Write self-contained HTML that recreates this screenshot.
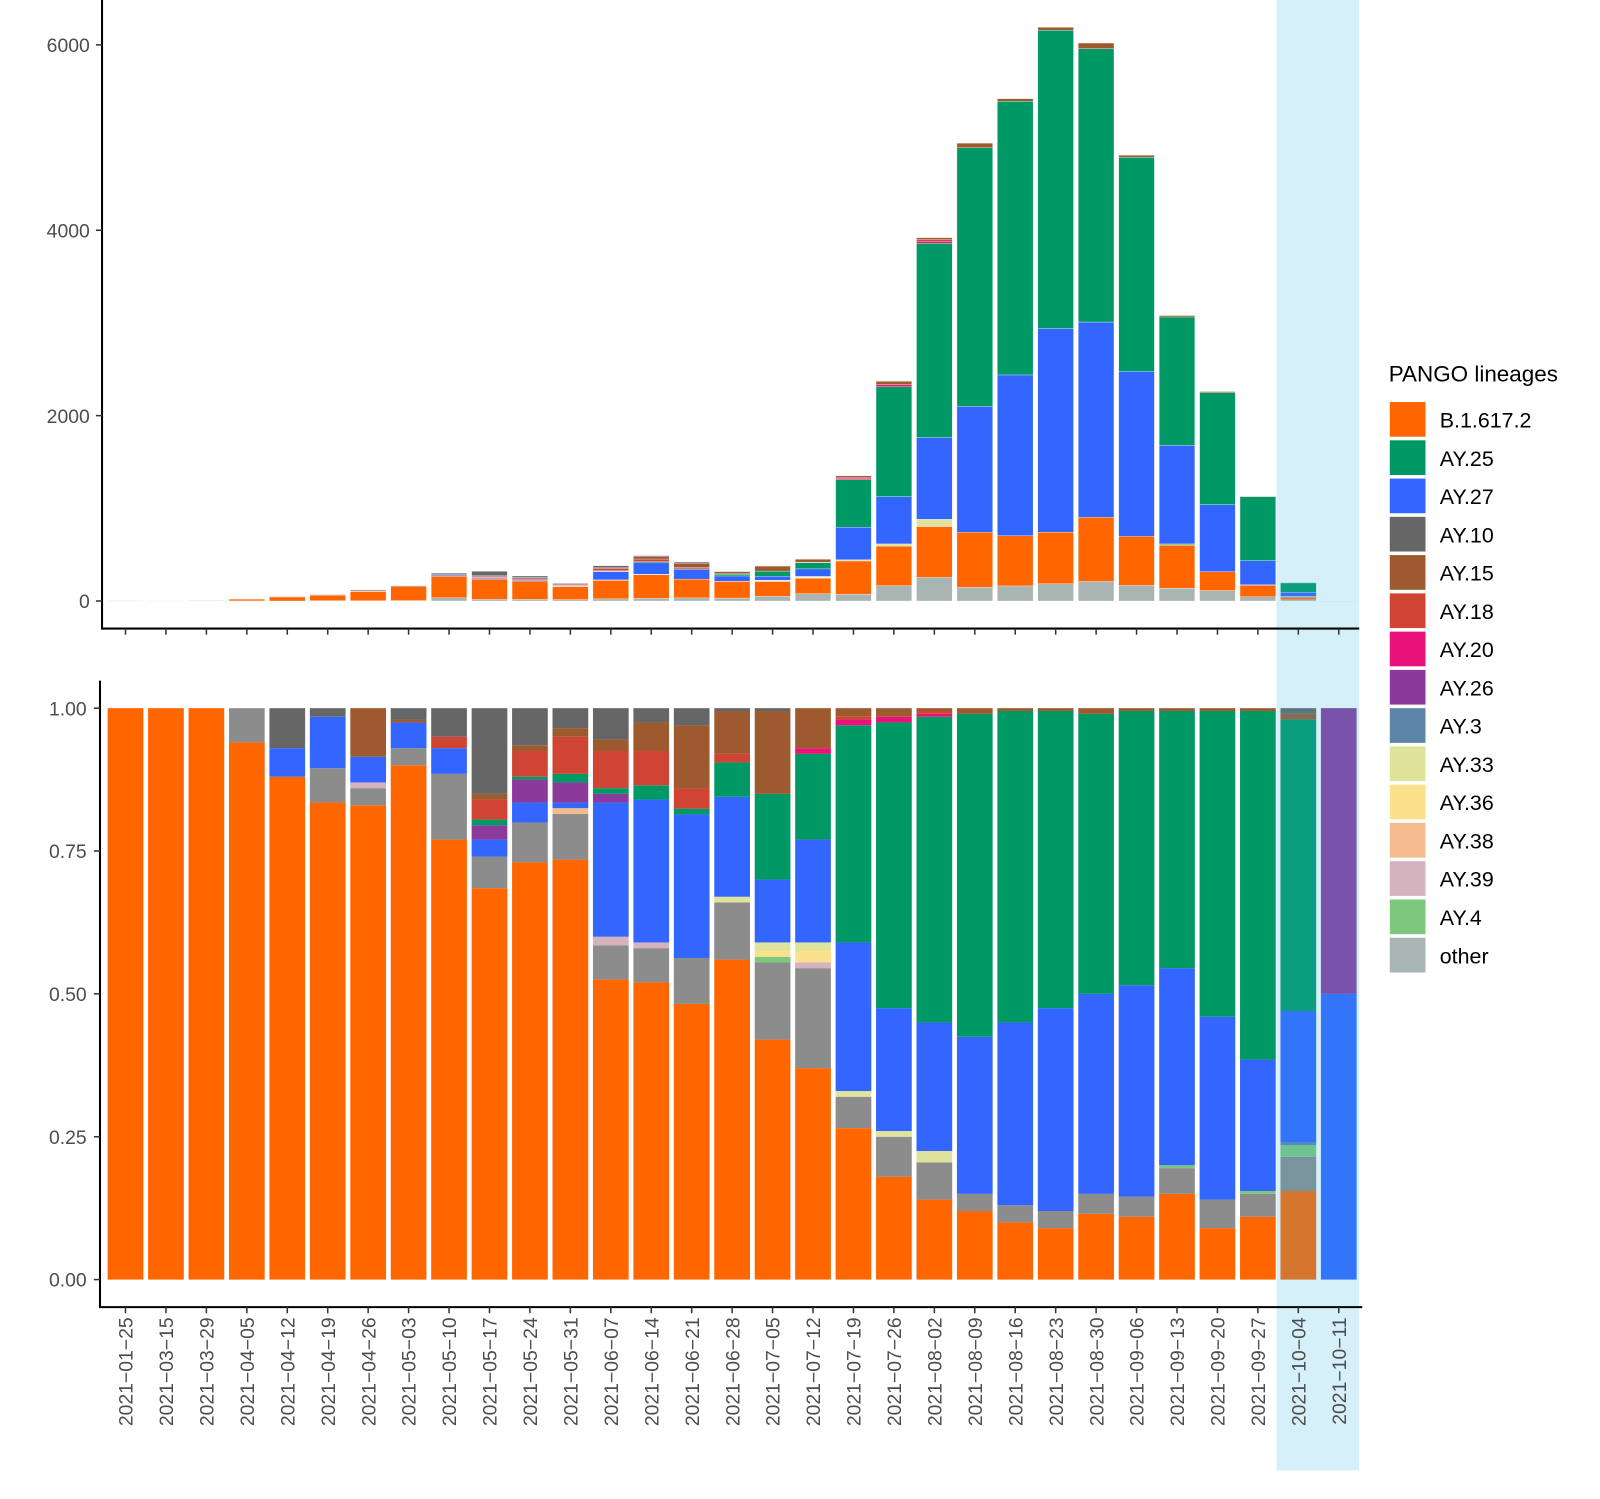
<!DOCTYPE html>
<html><head><meta charset="utf-8"><style>
body{margin:0;background:#fff;}
svg{display:block;font-family:"Liberation Sans",sans-serif;}
</style></head><body>
<svg id="chart" width="1600" height="1499" viewBox="0 0 1600 1499" xmlns="http://www.w3.org/2000/svg">
<g id="root" transform="scale(1.0204)"></g>
</svg>
<script>
const categories=["2021-01-25","2021-03-15","2021-03-29","2021-04-05","2021-04-12","2021-04-19","2021-04-26","2021-05-03","2021-05-10","2021-05-17","2021-05-24","2021-05-31","2021-06-07","2021-06-14","2021-06-21","2021-06-28","2021-07-05","2021-07-12","2021-07-19","2021-07-26","2021-08-02","2021-08-09","2021-08-16","2021-08-23","2021-08-30","2021-09-06","2021-09-13","2021-09-20","2021-09-27","2021-10-04","2021-10-11"];
const totals=[2,3,5,20,50,70,120,170,300,320,270,190,380,490,420,320,380,450,1350,2370,3920,4940,5420,6190,6020,4810,3080,2260,1130,200,5];
const lineageNames=["B.1.617.2","AY.25","AY.27","AY.10","AY.15","AY.18","AY.20","AY.26","AY.3","AY.33","AY.36","AY.38","AY.39","AY.4","other"];
const B =[1,1,1,.94,.88,.835,.83,.90,.77,.685,.73,.735,.525,.52,.48,.56,.42,.37,.265,.18,.14,.12,.10,.09,.115,.11,.15,.09,.11,.155,0];
const OTHER=[0,0,0,.06,0,.06,.03,.03,.115,.055,.07,.08,.06,.06,.08,.10,.135,.175,.055,.07,.065,.03,.03,.03,.035,.035,.045,.05,.04,.06,0];
const AY4 =[0,0,0,0,0,0,0,0,0,0,0,0,0,0,0,0,.01,0,0,0,0,0,0,0,0,0,.005,0,.005,.02,0];
const AY39=[0,0,0,0,0,0,.01,0,0,0,0,0,.015,.01,0,0,0,.01,0,0,0,0,0,0,0,0,0,0,0,0,0];
const AY38=[0,0,0,0,0,0,0,0,0,0,0,.01,0,0,0,0,0,0,0,0,0,0,0,0,0,0,0,0,0,0,0];
const AY36=[0,0,0,0,0,0,0,0,0,0,0,0,0,0,0,0,.01,.02,0,0,0,0,0,0,0,0,0,0,0,0,0];
const AY33=[0,0,0,0,0,0,0,0,0,0,0,0,0,0,0,.01,.015,.015,.01,.01,.02,0,0,0,0,0,0,0,0,0,0];
const AY3 =[0,0,0,0,0,0,0,0,0,0,0,0,0,0,0,0,0,0,0,0,0,0,0,0,0,0,0,0,0,.005,0];
const AY27=[0,0,0,0,.05,.09,.045,.045,.045,.03,.035,.01,.235,.25,.25,.175,.11,.18,.26,.215,.225,.275,.32,.355,.35,.37,.345,.32,.23,.23,.5];
const AY26=[0,0,0,0,0,0,0,0,0,.025,.04,.035,.015,0,0,0,0,0,0,0,0,0,0,0,0,0,0,0,0,0,.5];
const AY25=[0,0,0,0,0,0,0,0,0,.01,.005,.015,.01,.025,.01,.06,.15,.15,.38,.5,.535,.565,.545,.52,.49,.48,.45,.535,.61,.51,0];
const AY20=[0,0,0,0,0,0,0,0,0,0,0,0,0,0,0,0,0,.01,.01,.01,.005,0,0,0,0,0,0,0,0,0,0];
const AY18=[0,0,0,0,0,0,0,0,.02,.035,.045,.065,.065,.06,.035,.015,0,0,.005,0,.005,0,0,0,0,0,0,0,0,0,0];
const AY15=[0,0,0,0,0,0,.085,.005,0,.01,.01,.015,.02,.05,.11,.075,.145,.07,.015,.015,.005,.01,.005,.005,.01,.005,.005,.005,.005,.01,0];
const AY10=[0,0,0,0,.07,.015,0,.02,.05,.15,.065,.035,.055,.025,.03,.005,.005,0,0,0,0,0,0,0,0,0,0,0,0,.01,0];
const topTicks=[0,2000,4000,6000];
const botTicks=[0,0.25,0.5,0.75,1];
const botTickLabels=["0.00","0.25","0.50","0.75","1.00"];

const colors={"B.1.617.2":"#ff6600","AY.25":"#009966","AY.27":"#3366ff","AY.10":"#666666","AY.15":"#9c5a2e","AY.18":"#d04434","AY.20":"#e8127a","AY.26":"#8b3a9c","AY.3":"#5c85a8","AY.33":"#dfe39c","AY.36":"#fde08c","AY.38":"#f4bb8c","AY.39":"#d4b2be","AY.4":"#7ec87e","other":"#a9b5b3"};
const series={"B.1.617.2":B,"other":OTHER,"AY.4":AY4,"AY.39":AY39,"AY.38":AY38,"AY.36":AY36,"AY.33":AY33,"AY.3":AY3,"AY.27":AY27,"AY.26":AY26,"AY.25":AY25,"AY.20":AY20,"AY.18":AY18,"AY.15":AY15,"AY.10":AY10};
const botOrder=["B.1.617.2","other","AY.4","AY.39","AY.38","AY.36","AY.33","AY.3","AY.27","AY.26","AY.25","AY.20","AY.18","AY.15","AY.10"];
const topOrder=["other","B.1.617.2","AY.4","AY.39","AY.38","AY.36","AY.33","AY.3","AY.27","AY.26","AY.25","AY.20","AY.18","AY.15","AY.10"];

const NS="http://www.w3.org/2000/svg";
const root=document.getElementById('root');
function el(tag,attrs,parent){const e=document.createElementNS(NS,tag);for(const k in attrs)e.setAttribute(k,attrs[k]);(parent||root).appendChild(e);return e;}
const xC=i=>123+i*(1312-123)/30;
const BW=35;
const yTop=v=>589-v*(589-44)/6000;
const yBot=v=>1254-v*(1254-694);

function sumAt(i){let s=0;for(const k of botOrder)s+=series[k][i];return s;}

categories.forEach((c,i)=>{
  const s=sumAt(i);let acc=0;
  for(const k of topOrder){const f=series[k][i]/s;if(f<=0)continue;
    const v0=acc*totals[i],v1=(acc+f)*totals[i];acc+=f;
    const r=el('rect',{x:xC(i)-BW/2,y:yTop(v1),width:BW,height:Math.max(0.3,yTop(v0)-yTop(v1)),fill:colors[k],stroke:'#fff','stroke-width':0.3});
    
    
  }
  let acc2=0;
  for(const k of botOrder){const f=series[k][i]/s;if(f<=0)continue;
    const v0=acc2,v1=acc2+f;acc2=v1;
    const col=(k==='other')?'#8c8c8c':colors[k];
    const r=el('rect',{x:xC(i)-BW/2,y:yBot(v1),width:BW,height:yBot(v0)-yBot(v1),fill:col});
    
    
  }
});
const ov=el('rect',{x:1251,y:0,width:81,height:1441,fill:'rgb(50,180,225)','fill-opacity':0.2});



const ax=el('g',{stroke:'#000','stroke-width':2,fill:'none'});
el('path',{d:'M100,0V616H1332'},ax);
el('path',{d:'M98,667V1281H1335'},ax);
topTicks.forEach(t=>{
  el('line',{x1:94,x2:100,y1:yTop(t),y2:yTop(t),stroke:'#333','stroke-width':1.5});
  const tx=el('text',{x:88,y:yTop(t)+7,'text-anchor':'end','font-size':19,fill:'#4d4d4d'});tx.textContent=t;
  
  
});
botTicks.forEach((t,j)=>{
  el('line',{x1:92,x2:98,y1:yBot(t),y2:yBot(t),stroke:'#333','stroke-width':1.5});
  const tx=el('text',{x:85,y:yBot(t)+7,'text-anchor':'end','font-size':19,fill:'#4d4d4d'});tx.textContent=botTickLabels[j];
  
  
});
categories.forEach((c,i)=>{
  el('line',{x1:xC(i),x2:xC(i),y1:616,y2:622,stroke:'#333','stroke-width':1.5});
  el('line',{x1:xC(i),x2:xC(i),y1:1281,y2:1287,stroke:'#333','stroke-width':1.5});
  const tx=el('text',{transform:`translate(${xC(i)+7},1291) rotate(-90)`,'text-anchor':'end','font-size':19,fill:'#4d4d4d'});
  tx.textContent=c.replace(/-/g,'\u2212');
  
  
});
const lt=el('text',{x:1361,y:374,'font-size':22,fill:'#000'});lt.textContent='PANGO lineages';


lineageNames.forEach((n,j)=>{
  const y=394+j*37.5;
  const g=el('g',{});
  
  
  el('rect',{x:1362,y:y,width:35,height:34,fill:colors[n]},g);
  const t=el('text',{x:1411,y:y+25,'font-size':21,fill:'#000'},g);t.textContent=n;
});
</script>
</body></html>
